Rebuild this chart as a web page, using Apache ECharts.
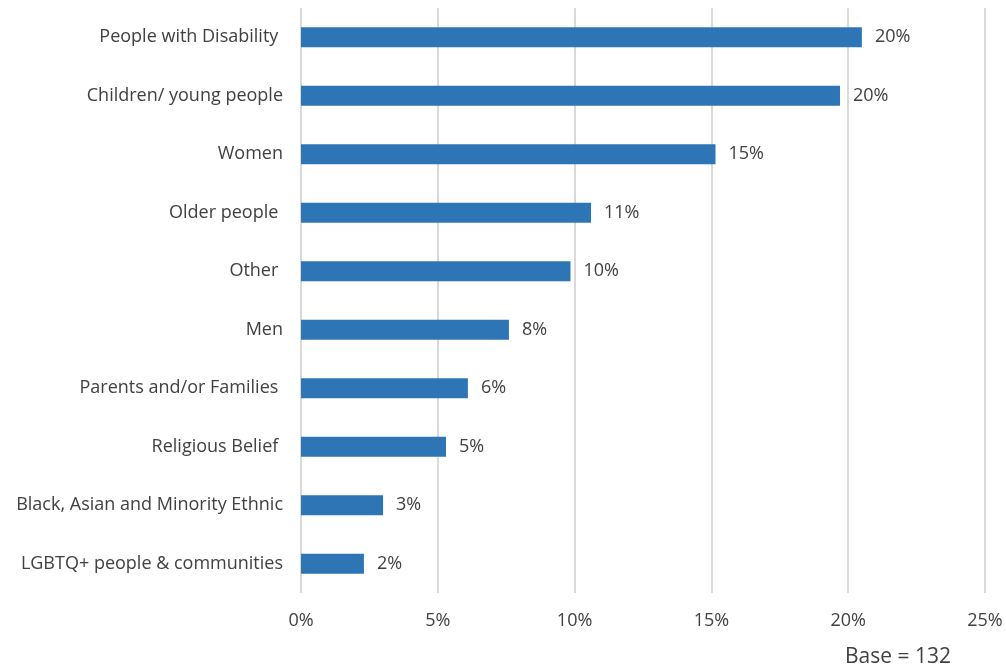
<!DOCTYPE html>
<html>
<head>
<meta charset="utf-8">
<script src="https://cdn.jsdelivr.net/npm/echarts@6/dist/echarts.min.js"></script>
<style>
  html, body { margin: 0; padding: 0; background: #fff; }
  #chart { width: 1006px; height: 672px; }
</style>
</head>
<body>
<div id="chart"></div>
<script>
// categories top to bottom
const categories = [
  'People with Disability ',
  'Children/ young people',
  'Women',
  'Older people ',
  'Other ',
  'Men',
  'Parents and/or Families ',
  'Religious Belief ',
  'Black, Asian and Minority Ethnic',
  'LGBTQ+ people & communities'
];
const values = [20.5, 19.7, 15.15, 10.6, 9.85, 7.6, 6.1, 5.3, 3.0, 2.3];
const valueLabels = ['20%', '20%', '15%', '11%', '10%', '8%', '6%', '5%', '3%', '2%'];
const xTicks = [0, 5, 10, 15, 20, 25];

const myChart = echarts.init(document.getElementById('chart'));
const font = 'Open Sans, Liberation Sans, sans-serif';

const option = {
  animation: false,
  grid: { left: 301, right: 21, top: 8, bottom: 79 },
  xAxis: {
    type: 'value',
    min: xTicks[0],
    max: xTicks[xTicks.length - 1],
    interval: 5,
    axisLine: { show: false },
    axisTick: { show: false },
    axisLabel: {
      margin: 19,
      color: '#404040',
      fontSize: 18,
      fontFamily: font,
      formatter: v => v + '%'
    },
    splitLine: { show: true, lineStyle: { color: '#d9d9d9', width: 2 } }
  },
  yAxis: {
    type: 'category',
    inverse: true,
    data: categories,
    axisLine: { show: false },
    axisTick: { show: false },
    axisLabel: {
      margin: 18,
      color: '#404040',
      fontSize: 18,
      fontFamily: font
    }
  },
  series: [
    {
      type: 'bar',
      data: values,
      barWidth: 20,
      itemStyle: { color: '#2E75B6' },
      label: {
        show: true,
        position: 'right',
        distance: 13,
        color: '#404040',
        fontSize: 18,
        fontFamily: font,
        formatter: p => valueLabels[p.dataIndex]
      }
    }
  ],
  graphic: [
    {
      type: 'text',
      left: 845,
      top: 647,
      style: {
        text: 'Base = 132',
        fill: '#404040',
        font: '21px ' + font
      }
    }
  ]
};
myChart.setOption(option);
</script>
</body>
</html>
